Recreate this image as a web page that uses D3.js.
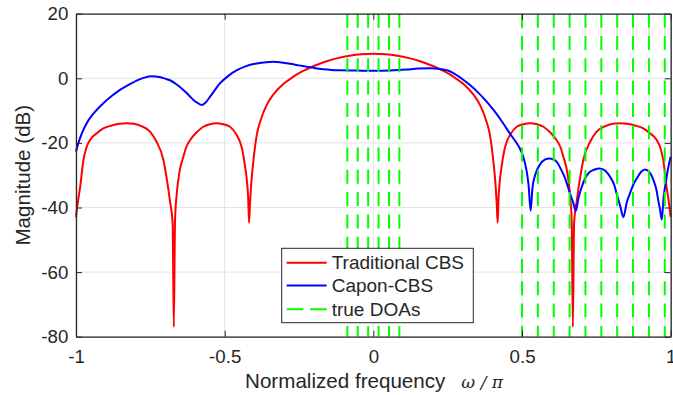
<!DOCTYPE html>
<html>
<head>
<meta charset="utf-8">
<script src="https://cdn.jsdelivr.net/npm/d3@7"></script>
<style>
  body { margin: 0; background: #fff; }
  text { font-family: "Liberation Sans", Arial, sans-serif; fill: #262626; }
</style>
</head>
<body>
<svg id="chart" width="673" height="395"></svg>
<script>
// Axis ticks
const xTicks = [-1, -0.5, 0, 0.5, 1];
const yTicks = [20, 0, -20, -40, -60, -80];

// Traditional CBS spectrum (normalized frequency, dB)
const tradFreq = [
  -1.0, -0.994, -0.986, -0.975, -0.965, -0.953, -0.93, -0.908, -0.88, -0.855, -0.83, -0.805, -0.78, -0.751, -0.73, -0.706, -0.695, -0.684, -0.675, -0.671,
  -0.667, -0.661, -0.651, -0.639, -0.63, -0.616, -0.595, -0.572, -0.55, -0.527, -0.505, -0.482, -0.46, -0.448, -0.44, -0.431, -0.425, -0.421, -0.418,
  -0.415, -0.411, -0.404, -0.392, -0.381, -0.359, -0.336, -0.303, -0.269, -0.25, -0.224, -0.20, -0.157, -0.12, -0.08, -0.04,
  0,
  0.04, 0.08, 0.12, 0.157, 0.20, 0.224, 0.25, 0.269, 0.303, 0.336, 0.359, 0.381, 0.392, 0.404, 0.411, 0.415,
  0.418, 0.421, 0.425, 0.431, 0.44, 0.448, 0.46, 0.482, 0.505, 0.527, 0.55, 0.572, 0.595, 0.616, 0.63, 0.639, 0.651, 0.661, 0.667,
  0.671, 0.675, 0.684, 0.695, 0.706, 0.73, 0.751, 0.78, 0.805, 0.83, 0.855, 0.88, 0.908, 0.93, 0.953, 0.965, 0.975, 0.986, 0.994, 1.0
];
const tradMag = [
  -43, -38.5, -33.6, -25.3, -21.5, -19.1, -17, -15.5, -14.6, -14.1, -13.9, -14.1, -14.8, -16.5, -19.5, -25.3, -31, -38, -45, -77,
  -44, -35.6, -28.5, -24.3, -21.5, -19.1, -16.8, -15, -14.2, -13.9, -14.2, -15, -17.5, -19.8, -22.5, -27.5, -32, -37, -44.7,
  -39, -33, -26, -17.5, -13.5, -8.3, -5.0, -1.8, 0.5, 1.6, 2.8, 3.8, 5.3, 6.25, 7.0, 7.45,
  7.6,
  7.45, 7.0, 6.25, 5.3, 3.8, 2.8, 1.6, 0.5, -1.8, -5.0, -8.3, -13.5, -17.5, -26, -33, -39,
  -44.7, -37, -32, -27.5, -22.5, -19.8, -17.5, -15, -14.2, -13.9, -14.2, -15, -16.8, -19.1, -21.5, -24.3, -28.5, -35.6, -44,
  -77, -45, -38, -31, -25.3, -19.5, -16.5, -14.8, -14.1, -13.9, -14.1, -14.6, -15.5, -17, -19.1, -21.5, -25.3, -33.6, -38.5, -43
];

// Capon-CBS spectrum (normalized frequency, dB)
const caponFreq = [
  -1.0, -0.99, -0.98, -0.964, -0.94, -0.908, -0.88, -0.852, -0.82, -0.796, -0.77, -0.745, -0.72, -0.7, -0.684, -0.66, -0.639, -0.62, -0.605, -0.59,
  -0.577, -0.565, -0.549, -0.532, -0.516, -0.49, -0.459, -0.43, -0.392, -0.36, -0.336, -0.31, -0.28, -0.25, -0.224, -0.195, -0.168, -0.14, -0.112, -0.056,
  0, 0.056, 0.112, 0.15, 0.19, 0.224, 0.25, 0.269, 0.3, 0.325, 0.35, 0.381, 0.41, 0.437, 0.46, 0.48, 0.493, 0.505, 0.515, 0.522,
  0.529, 0.535, 0.544, 0.561, 0.578, 0.592, 0.605, 0.617, 0.63, 0.645, 0.661, 0.672, 0.681, 0.69, 0.701, 0.712, 0.723, 0.742, 0.762, 0.78,
  0.796, 0.81, 0.819, 0.83, 0.841, 0.852, 0.863, 0.875, 0.886, 0.9, 0.914, 0.928, 0.942, 0.952, 0.958, 0.964, 0.97, 0.976, 0.983, 0.991, 1.0
];
const caponMag = [
  -22.7, -19.5, -17, -13.9, -10.8, -7.7, -5.5, -3.6, -1.9, -0.7, 0.2, 0.6, 0.4, -0.1, -0.6, -2.0, -3.6, -5.3, -6.7, -7.7,
  -8.3, -7.6, -5.7, -3.5, -1.6, 0.6, 2.5, 3.7, 4.6, 5.0, 5.1, 4.9, 4.5, 4.0, 3.6, 3.1, 2.8, 2.6, 2.5, 2.4,
  2.3, 2.4, 2.7, 3.0, 3.1, 2.9, 2.4, 1.6, -0.3, -2.1, -4.2, -7.2, -10.5, -14, -17.2, -19.8, -21.8, -24.5, -28.5, -33,
  -41, -34, -30, -26.6, -25.1, -24.8, -25.1, -25.9, -28, -31, -35.6, -38.5, -41, -37, -33.6, -31, -29.4, -28.3, -27.9, -28.6,
  -30.5, -33, -36, -39.5, -43, -38.5, -35.6, -32.8, -31, -29, -28.2, -29, -31.5, -34.5, -37.7, -40.5, -43.7, -37, -32.5, -28, -24.3
];

// True directions of arrival (normalized frequency)
const doaFreq = [
  -0.0875, -0.0525, -0.0175, 0.0175, 0.0525, 0.0875,
  0.5, 0.5533, 0.6067, 0.66, 0.7133, 0.7667, 0.82, 0.8733, 0.9267, 0.98
];

const seriesNames = ["Traditional CBS", "Capon-CBS", "true DOAs"];
const seriesColors = ["#ff0000", "#0000ff", "#00ff00"];

const svg = d3.select("#chart");
const plotLeft = 76, plotRight = 670.7, plotTop = 13.7, plotBottom = 336.7;

const x = d3.scaleLinear().domain([-1, 1]).range([plotLeft, plotRight]);
const y = d3.scaleLinear().domain([-80, 20]).range([plotBottom, plotTop]);

// Grid
const grid = svg.append("g").attr("stroke", "#e3e3e3").attr("stroke-width", 1);
grid.selectAll("line.gx").data(xTicks).join("line")
  .attr("x1", d => x(d)).attr("x2", d => x(d))
  .attr("y1", plotTop).attr("y2", plotBottom);
grid.selectAll("line.gy").data(yTicks).join("line")
  .attr("x1", plotLeft).attr("x2", plotRight)
  .attr("y1", d => y(d)).attr("y2", d => y(d));

// Spectra
const line = d3.line()
  .x(d => x(d[0]))
  .y(d => y(d[1]))
  .curve(d3.curveMonotoneX);

svg.append("path")
  .datum(d3.zip(tradFreq, tradMag))
  .attr("fill", "none").attr("stroke", seriesColors[0]).attr("stroke-width", 2)
  .attr("stroke-linejoin", "round")
  .attr("d", line);

svg.append("path")
  .datum(d3.zip(caponFreq, caponMag))
  .attr("fill", "none").attr("stroke", seriesColors[1]).attr("stroke-width", 2)
  .attr("stroke-linejoin", "round")
  .attr("d", line);

// True DOA markers
svg.append("g").selectAll("line").data(doaFreq).join("line")
  .attr("x1", d => x(d)).attr("x2", d => x(d))
  .attr("y1", y(20)).attr("y2", y(-80))
  .attr("stroke", seriesColors[2]).attr("stroke-width", 2)
  .attr("stroke-dasharray", "14,8.3");

// Axes (ticks pointing inward, box on)
const tickFont = "18.7px";
const plain = d => String(d);
const axB = svg.append("g").attr("transform", `translate(0,${plotBottom})`)
  .call(d3.axisBottom(x).tickValues(xTicks).tickFormat(plain).tickSizeInner(-6).tickSizeOuter(0).tickPadding(13.3));
const axL = svg.append("g").attr("transform", `translate(${plotLeft},0)`)
  .call(d3.axisLeft(y).tickValues(yTicks).tickFormat(plain).tickSizeInner(-6).tickSizeOuter(0).tickPadding(7.7));
const axT = svg.append("g").attr("transform", `translate(0,${plotTop})`)
  .call(d3.axisTop(x).tickValues(xTicks).tickFormat("").tickSizeInner(-6).tickSizeOuter(0));
const axR = svg.append("g").attr("transform", `translate(${plotRight},0)`)
  .call(d3.axisRight(y).tickValues(yTicks).tickFormat("").tickSizeInner(-6).tickSizeOuter(0));

[axB, axL, axT, axR].forEach(g => {
  g.select(".domain").attr("stroke", "#262626").attr("stroke-width", 1.3);
  g.selectAll(".tick line").attr("stroke", "#262626").attr("stroke-width", 1);
  g.selectAll(".tick text")
    .style("font-family", '"Liberation Sans", Arial, sans-serif')
    .style("font-size", tickFont).attr("fill", "#262626");
});

// Axis labels
const xLabel = svg.append("text")
  .attr("x", 374).attr("y", 388)
  .attr("text-anchor", "middle")
  .style("font-size", "20.6px");
xLabel.append("tspan").text("Normalized frequency");
xLabel.append("tspan")
  .attr("dx", 16)
  .style("font-family", '"DejaVu Serif", serif')
  .style("font-style", "italic")
  .style("font-size", "17px")
  .text("ω / π");

svg.append("text")
  .attr("transform", `translate(30,${(plotTop + plotBottom) / 2}) rotate(-90)`)
  .attr("text-anchor", "middle")
  .style("font-size", "20.6px")
  .text("Magnitude (dB)");

// Legend
const legend = svg.append("g");
legend.append("rect")
  .attr("x", 281.7).attr("y", 248.3).attr("width", 191.6).attr("height", 74.4)
  .attr("fill", "#fff").attr("stroke", "#262626").attr("stroke-width", 1);
const rowsY = [262.7, 285.5, 309.3];
seriesNames.forEach((name, i) => {
  legend.append("line")
    .attr("x1", 286.7).attr("x2", 326.7)
    .attr("y1", rowsY[i]).attr("y2", rowsY[i])
    .attr("stroke", seriesColors[i]).attr("stroke-width", 2)
    .attr("stroke-dasharray", i === 2 ? "16.7,6.7" : null);
  legend.append("text")
    .attr("x", 331.7).attr("y", rowsY[i])
    .attr("dy", "0.35em")
    .style("font-size", "19px")
    .text(name);
});
</script>
</body>
</html>
